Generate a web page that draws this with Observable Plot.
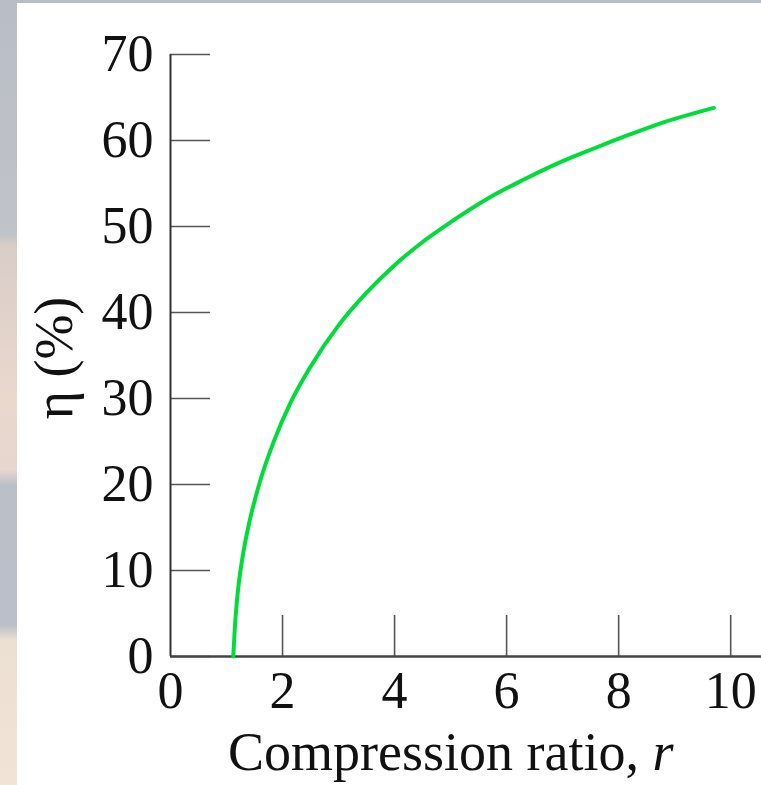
<!DOCTYPE html>
<html>
<head>
<meta charset="utf-8">
<script src="https://cdn.jsdelivr.net/npm/d3@7"></script>
<script src="https://cdn.jsdelivr.net/npm/@observablehq/plot@0.6"></script>
<style>
  html, body { margin: 0; padding: 0; }
  body {
    width: 761px; height: 785px; overflow: hidden; position: relative;
    background: linear-gradient(to bottom,
      #b9bdc5 0px, #c0c3c9 235px, #d9cdc8 245px, #ead8cd 400px, #e6d6cf 470px,
      #bac0c8 485px, #b9c0c9 625px, #ece0d2 640px, #f1e4d6 785px);
  }
  #chart { position: absolute; left: 17px; top: 3px; width: 744px; height: 782px; background: #fff; }
  .lbl { position: absolute; font-family: "Liberation Serif", "Times New Roman", serif; font-size: 54px; line-height: 1; color: #111; white-space: nowrap; }
  #xlab { left: 228px; top: 725px; }
  #ylab { left: 54px; top: 358px; transform: translate(-50%, -50%) rotate(-90deg); }
</style>
</head>
<body>
<div id="chart"></div>
<script>
// Compression ratio r and efficiency η (%)
const ratio = [1.12, 1.15, 1.20, 1.28, 1.40, 1.60, 1.85, 2.15, 2.50, 3.00, 3.50, 4.00, 4.50, 5.00, 5.65, 6.29, 6.93, 7.57, 8.20, 8.84, 9.70];
const eta   = [0, 3.5, 7.4, 11.3, 15.4, 20.4, 25.1, 29.6, 33.7, 38.5, 42.3, 45.5, 48.2, 50.5, 53.2, 55.4, 57.4, 59.1, 60.7, 62.2, 63.8];
const xTicks = [0, 2, 4, 6, 8, 10];
const yTicks = [0, 10, 20, 30, 40, 50, 60, 70];

const data = ratio.map((r, i) => ({r, eta: eta[i]}));

const chart = Plot.plot({
  width: 744,
  height: 782,
  marginLeft: 153,
  marginRight: 0,
  marginTop: 51,
  marginBottom: 129,
  style: {fontFamily: "'Liberation Serif', 'Times New Roman', serif", background: "transparent", color: "#111"},
  x: {domain: [0, 10.55], label: null},
  y: {domain: [0, 70], label: null},
  marks: [
    Plot.axisX(xTicks.slice(1), {tickSize: -41, text: null, stroke: "#555", strokeWidth: 1.6, label: null}),
    Plot.axisX(xTicks, {tickSize: 0, tickPadding: 15, fontSize: 52, fill: "#111", label: null}),
    Plot.axisY(yTicks, {tickSize: -40, text: null, stroke: "#555", strokeWidth: 1.6, label: null}),
    Plot.axisY(yTicks, {tickSize: 0, tickPadding: 17, fontSize: 52, fill: "#111", label: null}),
    Plot.ruleX([0], {stroke: "#333", strokeWidth: 2}),
    Plot.ruleY([0], {stroke: "#444", strokeWidth: 2.4}),
    Plot.line(data, {x: "r", y: "eta", stroke: "#00dc3a", strokeWidth: 4, curve: "monotone-x"})
  ]
});
document.getElementById("chart").appendChild(chart);
</script>
<div class="lbl" id="xlab">Compression ratio, <i>r</i></div>
<div class="lbl" id="ylab">η (%)</div>
</body>
</html>
